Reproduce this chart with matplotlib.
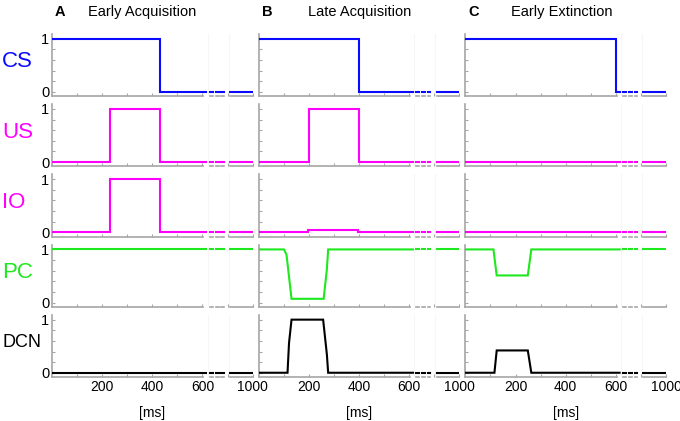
import matplotlib
matplotlib.use('Agg')
import matplotlib.pyplot as plt
from matplotlib import transforms

plt.rcParams['font.family'] = ['Liberation Sans', 'DejaVu Sans']

panel_letters = ['A', 'B', 'C']
panel_titles = ['Early Acquisition', 'Late Acquisition', 'Early Extinction']
signals = ['CS', 'US', 'IO', 'PC', 'DCN']
signal_colors = ['#0a0aff', '#ff00ff', '#ff00ff', '#1ee81e', '#000000']

# breakpoints of each trace (ms) and its values, one list per column A, B, C
cs_t = [[0, 430, 430, 600], [0, 400, 400, 600], [0, 600, 600]]
cs_v = [[1, 1, 0, 0], [1, 1, 0, 0], [1, 1, 0]]

us_t = [[0, 230, 230, 430, 430, 600], [0, 200, 200, 400, 400, 600], [0, 600]]
us_v = [[0, 0, 1, 1, 0, 0], [0, 0, 1, 1, 0, 0], [0, 0]]

io_t = [[0, 230, 230, 430, 430, 600], [0, 197, 197, 395, 395, 600], [0, 600]]
io_v = [[0, 0, 1, 1, 0, 0], [0, 0, 0.05, 0.05, 0, 0], [0, 0]]

pc_t = [[0, 600],
        [0, 101, 111, 131, 259, 272, 277, 600],
        [0, 112, 125, 249, 263, 600]]
pc_v = [[1, 1],
        [1, 1, 0.9, 0.07, 0.07, 0.63, 1, 1],
        [1, 1, 0.51, 0.51, 1, 1]]

dcn_t = [[0, 600],
         [0, 115, 121, 131, 257, 272, 277, 600],
         [0, 116, 125, 249, 263, 600]]
dcn_v = [[0, 0],
         [0, 0, 0.56, 1, 1, 0.34, 0, 0],
         [0, 0, 0.42, 0.42, 0, 0]]

all_t = [cs_t, us_t, io_t, pc_t, dcn_t]
all_v = [cs_v, us_v, io_v, pc_v, dcn_v]

xtick_pos = [100, 200, 300, 400, 500, 600, 700, 800]
xtick_lab = ['', '200', '', '400', '', '600', '', '1000']

# pieces drawn after the time-axis break
break_end = 615
break_pieces = [(628, 641), (652, 665), (675, 684), (709, 800)]

gray = '#a6a6a6'
y_lo, y_hi = -0.08, 1.09

fig, axes = plt.subplots(5, 3, figsize=(6.8, 4.21), dpi=100)
fig.subplots_adjust(left=52 / 680, right=666 / 680, top=1 - 34 / 421,
                    bottom=1 - 377 / 421, hspace=0.13, wspace=0.03)

for r in range(5):
    for c in range(3):
        ax = axes[r, c]
        col = signal_colors[r]
        t = list(all_t[r][c]) + [break_end]
        v = list(all_v[r][c]) + [all_v[r][c][-1]]
        ax.plot(t, v, color=col, lw=1.5, solid_joinstyle='miter', zorder=3)
        last = v[-1]
        for a, b in break_pieces:
            ax.plot([a, b], [last, last], color=col, lw=1.5, zorder=3)

        # faint marks of the break
        for xb in (620, 704):
            ax.axvline(xb, color='#f6f6f6', lw=0.8, zorder=0)

        ax.set_xlim(0, 800)
        ax.set_ylim(y_lo, y_hi)
        for s in ['top', 'right', 'bottom']:
            ax.spines[s].set_visible(False)
        ax.spines['left'].set_color(gray)
        ax.spines['left'].set_linewidth(1.2)

        # bottom spine, broken like the traces
        ax.plot([0, 604], [y_lo, y_lo], color=gray, lw=1.2, clip_on=False, zorder=2)
        for a, b in break_pieces:
            ax.plot([a, b], [y_lo, y_lo], color=gray, lw=1.2, clip_on=False, zorder=2)

        ax.set_xticks(xtick_pos)
        ax.set_yticks([0, 0.2, 0.4, 0.6, 0.8, 1])
        ax.tick_params(direction='in', length=2.5, width=0.8, color=gray,
                       labelsize=10, pad=2)
        if r == 4:
            ax.set_xticklabels(xtick_lab)
            ax.set_xlabel('[ms]', fontsize=10, labelpad=9)
        else:
            ax.set_xticklabels([])
        if c == 0:
            ax.set_yticklabels(['0', '', '', '', '', '1'], fontsize=10.5)
        else:
            ax.set_yticklabels([])

    trans = transforms.blended_transform_factory(fig.transFigure, axes[r, 0].transAxes)
    axes[r, 0].text(0.003, 0.55, signals[r], transform=trans, ha='left', va='center',
                    color=signal_colors[r], fontsize=13 if signals[r] == 'DCN' else 16)

title_cx = [142, 360, 562]
for c in range(3):
    left = axes[0, c].get_position().x0
    fig.text(left + 3 / 680, 1 - 12 / 421, panel_letters[c], fontsize=10.5,
             fontweight='bold', ha='left', va='center')
    fig.text(title_cx[c] / 680, 1 - 12 / 421, panel_titles[c], fontsize=10.5,
             ha='center', va='center')

fig.savefig('out.png', dpi=100)
